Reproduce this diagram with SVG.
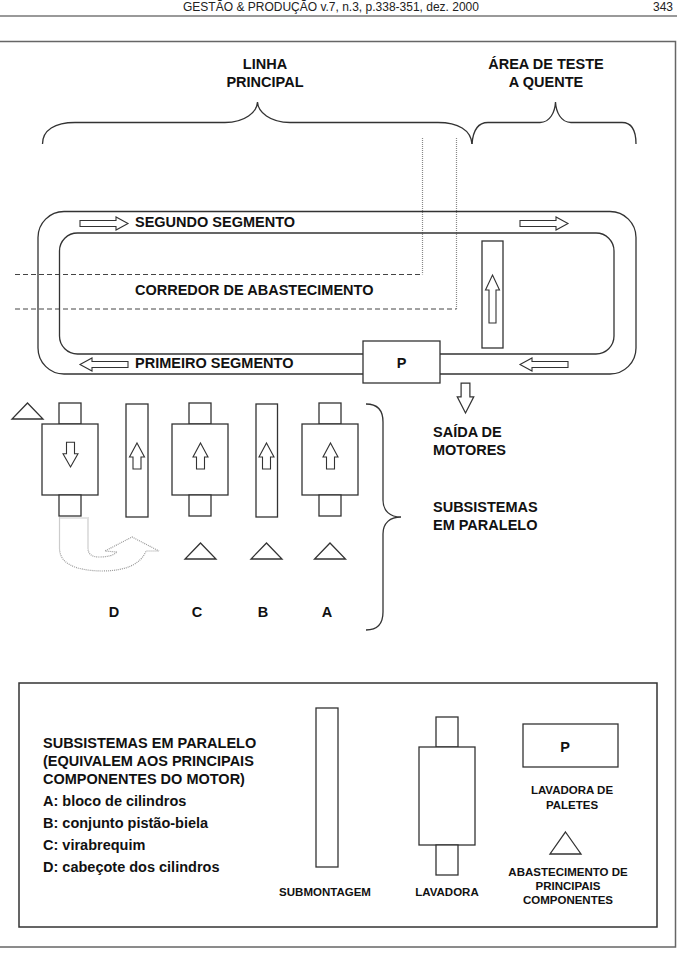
<svg xmlns="http://www.w3.org/2000/svg" width="677" height="961" viewBox="0 0 677 961">
<style>
.ln{fill:none;stroke:#333;stroke-width:1.3}
.bx{fill:#fff;stroke:#333;stroke-width:1.3}
.ar{fill:#fff;stroke:#333;stroke-width:1.1}
.t{font-family:"Liberation Sans",Arial,sans-serif;font-weight:bold;font-size:14.5px;fill:#111}
.h{font-family:"Liberation Sans",Arial,sans-serif;font-size:12px;fill:#222;text-anchor:middle}
.s{font-family:"Liberation Sans",Arial,sans-serif;font-weight:bold;font-size:11.5px;fill:#111;text-anchor:middle}
.m{text-anchor:middle}
.dash{fill:none;stroke:#444;stroke-width:1;stroke-dasharray:5,3}
.dot{fill:none;stroke:#999;stroke-width:1.2;stroke-dasharray:1,1}
</style>
<defs>
<path id="upArrow" d="M0,0 L7.5,14 L4,14 L4,26 L-4,26 L-4,14 L-7.5,14 Z"/>
<path id="rArrow" d="M0,-3 L36,-3 L36,-6.5 L48,0 L36,6.5 L36,3 L0,3 Z"/>
<path id="tri" d="M0,0 L15.5,16 L-15.5,16 Z"/>
<g id="lav">
<rect x="-11" y="0" width="22" height="21"/>
<rect x="-28" y="21" width="56" height="71"/>
<rect x="-11" y="92" width="22" height="21"/>
</g>
</defs>
<rect width="677" height="961" fill="#fff"/>
<g id="header">
<text x="331" y="11" class="h">GESTÃO &amp; PRODUÇÃO v.7, n.3, p.338-351, dez. 2000</text>
<text x="663" y="11" class="h">343</text>
<line x1="0" y1="16" x2="677" y2="16" stroke="#777" stroke-width="1.5"/>
</g>
<rect id="frame" x="-2" y="41.5" width="677.5" height="905.5" fill="none" stroke="#666" stroke-width="1.5"/>
<g id="braces" class="ln">
<path d="M42.5,144 C42.5,130 55,122.5 75,122.5 L225,122.5 C245,122.5 257,112 257.5,102 C258,112 270,122.5 290,122.5 L438,122.5 C458,122.5 471,130 472,144"/>
<path d="M472,144 C473,130 478,122.5 488,122.5 L540,122.5 C550,122.5 555,112 555.5,102 C556,112 561,122.5 571,122.5 L622,122.5 C632,122.5 636,130 636,144"/>
<path d="M366,404 C377,404 383,410 383,422 L383,500 C383,511 390,517 401,517 C390,517 383,523 383,534 L383,612 C383,624 377,630 366,630"/>
</g>
<g id="labels-top">
<text x="265" y="69" class="t m">LINHA</text>
<text x="265" y="87" class="t m">PRINCIPAL</text>
<text x="546" y="69" class="t m">ÁREA DE TESTE</text>
<text x="546" y="87" class="t m">A QUENTE</text>
</g>
<g id="corridor">
<path class="dot" d="M422.5,138 L422.5,274.5" style="stroke:#888"/>
<path class="dot" d="M456.5,138 L456.5,309" style="stroke:#888"/>
<path class="dash" d="M15,274.5 L422.5,274.5"/>
<path class="dash" d="M15,309 L456.5,309"/>
</g>
<g id="loop">
<rect class="ln" x="38" y="211.5" width="598" height="162.5" rx="26" ry="26"/>
<rect class="ln" x="59.5" y="233" width="554.5" height="121" rx="18" ry="18"/>
<use href="#rArrow" x="80" y="223.5" class="ar"/>
<use href="#rArrow" x="520" y="223.5" class="ar"/>
<use href="#rArrow" transform="translate(128,364.5) scale(-1,1)" class="ar"/>
<use href="#rArrow" transform="translate(568,364.5) scale(-1,1)" class="ar"/>
<text x="135" y="227" class="t">SEGUNDO SEGMENTO</text>
<text x="135" y="295" class="t">CORREDOR DE ABASTECIMENTO</text>
<text x="135" y="368" class="t">PRIMEIRO SEGMENTO</text>
</g>
<g id="test-sub">
<rect class="bx" x="482" y="241" width="21" height="107"/>
<path class="ar" d="M492.5,275 L499.5,290 L496,290 L496,323 L489,323 L489,290 L485.5,290 Z"/>
</g>
<g id="pallet-washer">
<rect class="bx" x="363" y="341" width="77" height="42"/>
<text x="401.5" y="368" class="t m">P</text>
</g>
<g id="exit">
<use href="#upArrow" transform="translate(465.5,413) scale(1.1,-1.15)" class="ar"/>
<text x="433" y="437" class="t">SAÍDA DE</text>
<text x="433" y="455" class="t">MOTORES</text>
</g>
<g id="supply-d">
<use href="#tri" x="27.5" y="403" class="bx"/>
</g>
<g id="sub-d">
<use href="#lav" x="70" y="403" class="bx"/>
<use href="#upArrow" transform="translate(70.5,467) scale(1,-0.95)" class="ar"/>
<path class="dot" d="M59.5,518 L88,518 L88,548 Q88,557 99,557 Q112,557 117,552 L105,551 L132,537 L159,551 L146,551 Q138,571 101,571 Q59.5,570 59.5,548 Z"/>
<text x="114" y="617" class="t m">D</text>
</g>
<g id="sub-d-assembly">
<rect class="bx" x="126" y="404" width="22" height="113"/>
<use href="#upArrow" x="137" y="443" class="ar"/>
</g>
<g id="sub-c">
<use href="#lav" x="200" y="403" class="bx"/>
<use href="#upArrow" x="200.5" y="443" class="ar"/>
<use href="#tri" x="200.5" y="543" class="bx"/>
<text x="197" y="617" class="t m">C</text>
</g>
<g id="sub-b">
<rect class="bx" x="256" y="404" width="21.5" height="113"/>
<use href="#upArrow" x="266.5" y="443" class="ar"/>
<use href="#tri" x="266.5" y="543" class="bx"/>
<text x="263" y="617" class="t m">B</text>
</g>
<g id="sub-a">
<use href="#lav" x="330" y="403" class="bx"/>
<use href="#upArrow" x="330.5" y="443" class="ar"/>
<use href="#tri" x="330" y="543" class="bx"/>
<text x="327" y="617" class="t m">A</text>
</g>
<g id="parallel-label">
<text x="433" y="512" class="t">SUBSISTEMAS</text>
<text x="433" y="530" class="t">EM PARALELO</text>
</g>
<g id="legend">
<rect x="19" y="683" width="638" height="244" fill="none" stroke="#333" stroke-width="1.5"/>
<text x="43" y="748" class="t">SUBSISTEMAS EM PARALELO</text>
<text x="43" y="766" class="t">(EQUIVALEM AOS PRINCIPAIS</text>
<text x="43" y="784" class="t">COMPONENTES DO MOTOR)</text>
<text x="43" y="806" class="t">A: bloco de cilindros</text>
<text x="43" y="828" class="t">B: conjunto pistão-biela</text>
<text x="43" y="850" class="t">C: virabrequim</text>
<text x="43" y="872" class="t">D: cabeçote dos cilindros</text>
<rect class="bx" x="316" y="708" width="22" height="159"/>
<text x="325" y="896" class="s">SUBMONTAGEM</text>
<rect class="bx" x="436" y="717" width="22" height="30"/>
<rect class="bx" x="419" y="747" width="56" height="98"/>
<rect class="bx" x="436" y="845" width="22" height="30"/>
<text x="447" y="896" class="s">LAVADORA</text>
<rect class="bx" x="523" y="724" width="95" height="43"/>
<text x="565" y="752" class="t m">P</text>
<text x="572" y="794" class="s">LAVADORA DE</text>
<text x="572" y="809" class="s">PALETES</text>
<path class="bx" d="M565.5,832 L581,854 L550,854 Z"/>
<text x="568" y="876" class="s">ABASTECIMENTO DE</text>
<text x="568" y="890" class="s">PRINCIPAIS</text>
<text x="568" y="904" class="s">COMPONENTES</text>
</g>
</svg>
